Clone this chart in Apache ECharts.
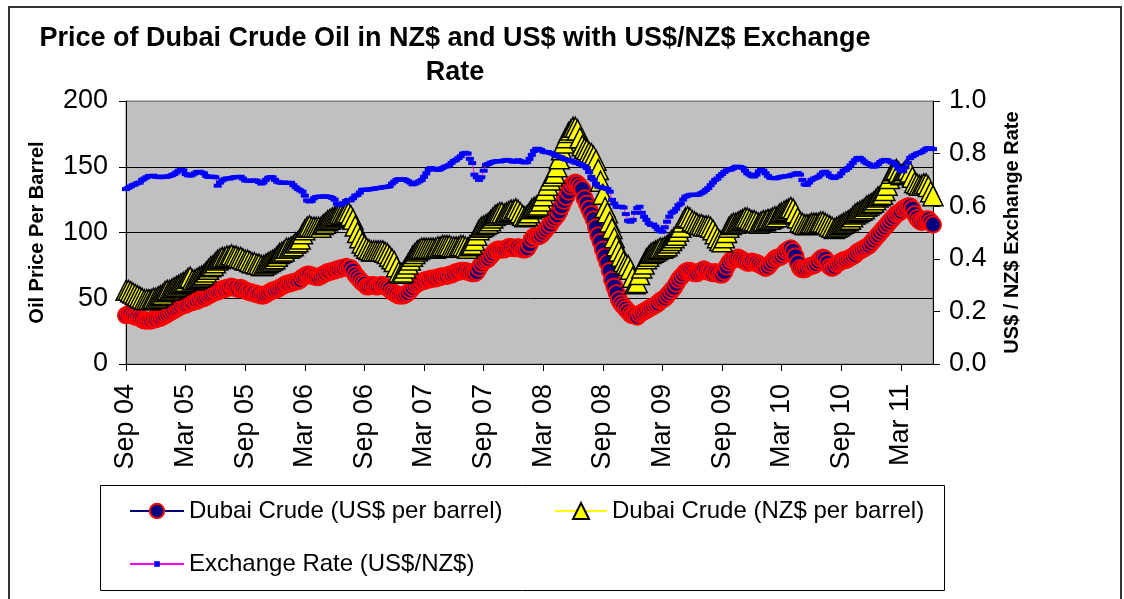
<!DOCTYPE html>
<html>
<head>
<meta charset="utf-8">
<title>Price of Dubai Crude Oil</title>
<script src="https://cdn.jsdelivr.net/npm/echarts@6.0.0/dist/echarts.min.js"></script>
<style>
html,body{margin:0;padding:0;background:#fff;}
#main{width:1124px;height:599px;}
</style>
</head>
<body>
<div id="main"></div>
<script>
var tickLabels = ['Sep 04','Mar 05','Sep 05','Mar 06','Sep 06','Mar 07','Sep 07','Mar 08','Sep 08','Mar 09','Sep 09','Mar 10','Sep 10','Mar 11'];

// weekly, from first week of Sep 2004
var usdPrice = [
	37,38,38,37,36,36,35,34,33,33,
	33,33,34,34,35,35,36,37,38,39,
	40,41,42,43,44,45,45,46,47,47,
	48,48,49,50,50,51,52,53,54,55,
	55,56,57,57,58,58,59,58,58,57,
	58,57,56,55,55,54,54,53,53,52,
	52,53,54,55,56,56,57,58,59,60,
	61,61,62,62,63,63,64,66,67,68,
	68,67,67,66,66,67,68,69,70,70,
	71,71,72,72,73,73,74,73,73,71,
	68,66,64,62,61,59,59,60,60,59,
	59,60,60,59,58,57,55,54,53,52,
	52,52,53,54,56,58,60,61,62,63,
	63,64,64,65,65,65,66,66,67,67,
	67,68,68,69,70,70,71,71,71,70,
	70,69,69,70,73,76,78,79,80,82,
	84,86,87,87,87,87,88,89,89,88,
	88,89,88,87,87,88,91,95,97,97,
	97,98,100,102,104,106,109,111,113,116,
	120,124,127,131,135,137,138,137,135,133,
	126,122,118,114,110,104,98,93,87,82,
	77,71,64,59,54,49,46,44,42,40,
	38,37,37,36,38,39,40,41,42,43,
	44,45,46,48,49,50,52,54,56,58,
	61,64,66,68,70,71,71,70,69,69,
	70,71,72,71,70,70,69,70,69,68,
	68,70,74,77,79,80,80,81,80,79,
	78,77,77,78,77,77,76,75,74,73,
	74,76,78,80,81,81,82,84,86,87,
	88,86,82,77,73,72,72,73,74,75,
	75,76,78,80,81,80,77,74,73,74,
	76,77,78,79,79,80,81,82,83,85,
	86,87,88,89,90,92,94,96,98,100,
	102,104,106,108,110,112,114,115,116,118,
	119,120,120,118,114,111,109,108,109,110,
	110,108,106
];
var nzdPrice = [
	56,56,55,54,53,52,51,50,49,49,
	49,49,50,50,51,52,53,55,56,56,
	57,58,59,60,61,62,63,65,66,64,
	64,65,66,67,68,70,72,74,75,77,
	79,80,81,81,82,82,83,82,82,81,
	81,80,79,79,78,77,77,76,76,75,
	75,76,77,78,79,80,82,84,85,86,
	88,88,89,90,92,93,95,99,102,104,
	105,104,104,104,104,104,106,107,109,110,
	111,112,113,114,114,114,115,115,113,110,
	105,100,96,92,90,88,87,86,86,86,
	86,86,86,85,84,82,80,78,74,70,
	69,70,73,76,79,82,84,86,87,88,
	88,88,88,88,88,88,89,89,90,90,
	90,90,89,89,89,89,90,90,89,88,
	90,91,94,98,102,104,105,106,107,109,
	111,113,114,115,115,114,115,116,117,117,
	118,117,115,113,112,113,115,118,119,120,
	121,124,128,132,136,140,143,145,150,156,
	163,168,172,176,178,180,180,178,172,166,
	164,163,161,160,158,155,148,139,129,119,
	115,108,103,96,90,86,82,78,76,75,
	72,66,61,62,68,73,76,80,82,84,
	85,86,87,88,88,89,90,92,94,96,
	98,101,104,108,111,112,111,109,108,107,
	106,106,105,105,105,104,102,99,96,94,
	93,96,100,104,106,107,107,108,109,110,
	111,111,110,109,109,108,107,108,109,109,
	110,110,111,112,112,114,115,116,117,118,
	119,118,115,111,108,107,106,106,106,107,
	107,107,107,108,108,107,106,105,104,103,
	104,105,106,107,108,109,110,112,114,115,
	116,117,118,120,121,122,123,125,127,128,
	129,132,136,141,145,147,148,146,144,145,
	147,148,146,142,138,137,136,136,137,137,
	135,131,128
];
var exchangeRate = [
	0.665,0.67,0.675,0.68,0.683,0.688,0.69,0.70,0.705,0.71,
	0.715,0.714,0.716,0.712,0.711,0.71,0.713,0.711,0.712,0.715,
	0.718,0.722,0.728,0.735,0.738,0.736,0.722,0.718,0.716,0.72,
	0.725,0.73,0.731,0.728,0.725,0.715,0.711,0.712,0.712,0.71,
	0.678,0.69,0.698,0.703,0.706,0.705,0.707,0.71,0.711,0.71,
	0.712,0.705,0.698,0.697,0.696,0.697,0.698,0.697,0.692,0.686,
	0.69,0.70,0.708,0.711,0.71,0.70,0.693,0.69,0.689,0.69,
	0.689,0.688,0.689,0.68,0.672,0.665,0.66,0.655,0.64,0.622,
	0.618,0.62,0.63,0.635,0.636,0.637,0.636,0.638,0.636,0.635,
	0.631,0.625,0.61,0.604,0.606,0.612,0.62,0.624,0.622,0.63,
	0.64,0.643,0.652,0.662,0.663,0.662,0.664,0.665,0.666,0.668,
	0.669,0.67,0.672,0.673,0.674,0.676,0.686,0.693,0.70,0.703,
	0.70,0.703,0.70,0.695,0.69,0.683,0.686,0.69,0.695,0.70,
	0.712,0.725,0.738,0.745,0.743,0.74,0.738,0.74,0.745,0.75,
	0.752,0.757,0.765,0.772,0.776,0.783,0.79,0.80,0.803,0.80,
	0.78,0.764,0.72,0.71,0.70,0.71,0.735,0.757,0.76,0.765,
	0.768,0.77,0.772,0.77,0.772,0.774,0.776,0.775,0.772,0.769,
	0.77,0.775,0.772,0.768,0.766,0.768,0.78,0.795,0.81,0.818,
	0.818,0.814,0.808,0.805,0.806,0.803,0.80,0.795,0.79,0.788,
	0.785,0.78,0.777,0.776,0.772,0.77,0.766,0.764,0.76,0.757,
	0.752,0.745,0.73,0.712,0.70,0.685,0.674,0.672,0.67,0.668,
	0.665,0.655,0.624,0.61,0.598,0.597,0.598,0.595,0.57,0.545,
	0.541,0.548,0.575,0.593,0.598,0.575,0.56,0.548,0.535,0.529,
	0.53,0.522,0.512,0.505,0.503,0.52,0.541,0.56,0.575,0.58,
	0.59,0.604,0.61,0.625,0.636,0.64,0.643,0.644,0.643,0.643,
	0.645,0.65,0.655,0.662,0.669,0.68,0.69,0.70,0.705,0.715,
	0.722,0.73,0.736,0.738,0.74,0.745,0.75,0.75,0.749,0.745,
	0.735,0.725,0.72,0.714,0.713,0.72,0.732,0.738,0.735,0.725,
	0.715,0.708,0.707,0.706,0.707,0.71,0.712,0.713,0.715,0.714,
	0.718,0.72,0.724,0.726,0.72,0.70,0.683,0.681,0.69,0.70,
	0.705,0.708,0.712,0.72,0.728,0.731,0.725,0.715,0.71,0.707,
	0.712,0.715,0.725,0.735,0.738,0.745,0.755,0.765,0.775,0.783,
	0.784,0.778,0.77,0.764,0.76,0.755,0.75,0.752,0.76,0.768,
	0.773,0.776,0.775,0.77,0.766,0.764,0.755,0.742,0.735,0.733,
	0.748,0.765,0.783,0.79,0.795,0.80,0.802,0.806,0.812,0.818,
	0.821,0.82,0.817
];

var weeks = [];
var start = new Date(2004, 8, 3);
for (var i = 0; i < usdPrice.length; i++) {
	var d = new Date(start.getTime() + i * 7 * 86400000);
	weeks.push(d.getFullYear() + '-' + (d.getMonth() + 1) + '-' + d.getDate());
}
// a label every 26 weeks
function isTick(index) {
	return index % 26 === 0;
}

var font = 'Liberation Sans, Arial, sans-serif';
var myChart = echarts.init(document.getElementById('main'));
var option = {
	animation: false,
	backgroundColor: '#fff',
	textStyle: { fontFamily: font, color: '#000' },
	title: {
		text: 'Price of Dubai Crude Oil in NZ$ and US$ with US$/NZ$ Exchange\nRate',
		left: 450,
		top: 17,
		textAlign: 'center',
		textStyle: { fontSize: 27, fontWeight: 'bold', lineHeight: 34, color: '#000', fontFamily: font }
	},
	graphic: [
		{ type: 'rect', z: 0, shape: { x: 9, y: 7, width: 1112, height: 600 }, style: { fill: 'none', stroke: '#333', lineWidth: 2 } },
		{ type: 'rect', z: 0, shape: { x: 100.5, y: 485.5, width: 844, height: 105 }, style: { fill: '#fff', stroke: '#000', lineWidth: 1 } }
	],
	legend: [
		{ data: ['Dubai Crude (US$ per barrel)'], left: 129, top: 499, padding: 0, itemWidth: 54, itemHeight: 18, selectedMode: false,
			textStyle: { fontSize: 24, fontFamily: font, color: '#000' } },
		{ data: ['Dubai Crude (NZ$ per barrel)'], left: 554, top: 499, padding: 0, itemWidth: 52, itemHeight: 20, selectedMode: false,
			textStyle: { fontSize: 24, fontFamily: font, color: '#000' } },
		{ data: ['Exchange Rate (US$/NZ$)'], left: 129, top: 552, padding: 0, itemWidth: 54, itemHeight: 7, selectedMode: false,
			textStyle: { fontSize: 24, fontFamily: font, color: '#000' } }
	],
	grid: {
		left: 126, right: 191, top: 101, bottom: 235,
		show: true, backgroundColor: '#C0C0C0', borderColor: '#808080', borderWidth: 1
	},
	xAxis: {
		type: 'category',
		data: weeks,
		boundaryGap: false,
		axisLine: { lineStyle: { color: '#000', width: 1 } },
		axisTick: { interval: isTick, length: 7, lineStyle: { color: '#000' } },
		axisLabel: {
			interval: isTick,
			formatter: function (value, index) { return tickLabels[index / 26]; },
			rotate: 90, margin: 20, fontSize: 27, color: '#000', fontFamily: font
		},
		splitLine: { show: false }
	},
	yAxis: [{
		type: 'value',
		position: 'left',
		min: 0, max: 200, interval: 50,
		name: 'Oil Price Per Barrel',
		nameLocation: 'middle', nameGap: 79, nameRotate: 90,
		nameTextStyle: { fontSize: 20, fontWeight: 'bold', color: '#000', fontFamily: font },
		axisLine: { show: true, lineStyle: { color: '#000' } },
		axisTick: { show: true, length: 7, lineStyle: { color: '#000' } },
		axisLabel: { fontSize: 27, margin: 18, color: '#000', fontFamily: font },
		splitLine: { show: true, lineStyle: { color: ['#000', '#000', '#000', '#000', '#808080'], width: 1 } }
	}, {
		type: 'value',
		position: 'right',
		min: 0, max: 1, interval: 0.2,
		name: 'US$ / NZ$ Exchange Rate',
		nameLocation: 'middle', nameGap: 69, nameRotate: 90,
		nameTextStyle: { fontSize: 20, fontWeight: 'bold', color: '#000', fontFamily: font },
		axisLine: { show: true, lineStyle: { color: '#000' } },
		axisTick: { show: true, length: 7, lineStyle: { color: '#000' } },
		axisLabel: { fontSize: 27, margin: 16, color: '#000', fontFamily: font,
			formatter: function (v) { return v.toFixed(1); } },
		splitLine: { show: false }
	}],
	series: [{
		name: 'Dubai Crude (US$ per barrel)',
		type: 'line',
		data: usdPrice,
		symbol: 'circle',
		symbolSize: 16,
		showAllSymbol: true,
		lineStyle: { color: '#000080', width: 1 },
		itemStyle: { color: '#000080', borderColor: '#FF0000', borderWidth: 2 },
		emphasis: { disabled: true }
	}, {
		name: 'Dubai Crude (NZ$ per barrel)',
		type: 'line',
		data: nzdPrice,
		symbol: 'triangle',
		symbolSize: 20,
		showAllSymbol: true,
		lineStyle: { color: '#FFFF00', width: 1 },
		itemStyle: { color: '#FFFF00', borderColor: '#000', borderWidth: 1.5 },
		emphasis: { disabled: true }
	}, {
		name: 'Exchange Rate (US$/NZ$)',
		type: 'line',
		yAxisIndex: 1,
		data: exchangeRate,
		symbol: 'rect',
		symbolSize: [8, 4],
		showAllSymbol: true,
		lineStyle: { color: '#FF00FF', width: 1 },
		itemStyle: { color: '#0000FF' },
		emphasis: { disabled: true }
	}]
};
myChart.setOption(option);
</script>
</body>
</html>
